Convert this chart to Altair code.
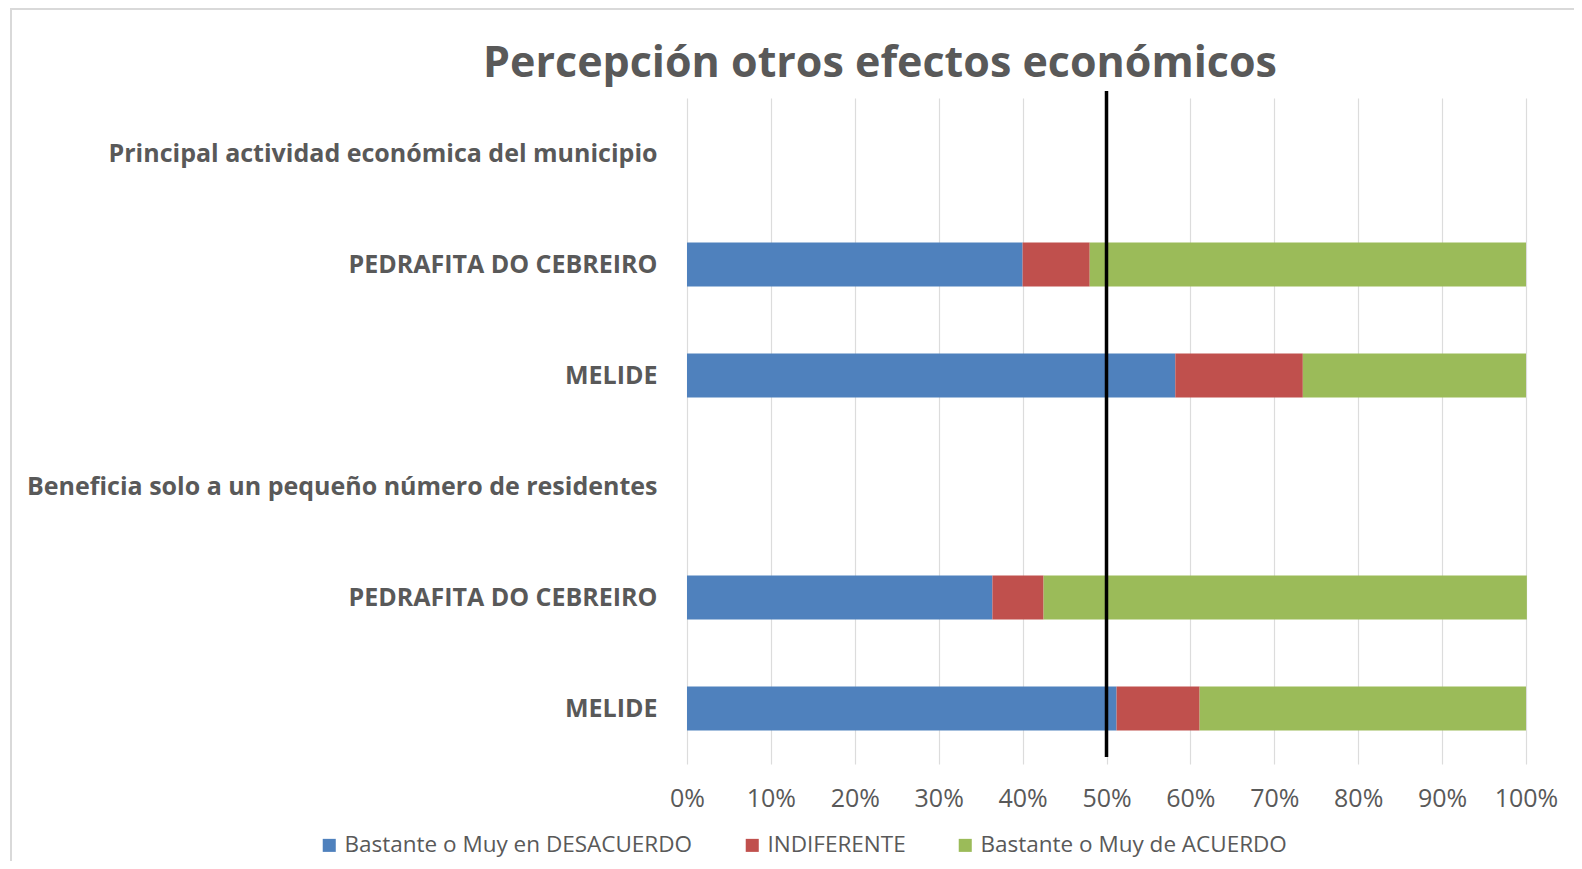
import altair as alt
import pandas as pd

# ---- data ----
row_keys = ["r1", "r2", "r3", "r4", "r5", "r6"]
row_labels = [
    "Principal actividad económica del municipio",
    "PEDRAFITA DO CEBREIRO",
    "MELIDE",
    "Beneficia solo a un pequeño número de residentes",
    "PEDRAFITA DO CEBREIRO",
    "MELIDE",
]
series = ["Bastante o Muy en DESACUERDO", "INDIFERENTE", "Bastante o Muy de ACUERDO"]
colors = ["#4f81bd", "#c0504d", "#9bbb59"]

bar_rows = ["r2", "r3", "r5", "r6"]
desacuerdo = [0.400, 0.582, 0.364, 0.512]
indiferente = [0.080, 0.152, 0.061, 0.099]
acuerdo = [0.520, 0.266, 0.576, 0.389]
x_ticks = [0, 0.1, 0.2, 0.3, 0.4, 0.5, 0.6, 0.7, 0.8, 0.9, 1.0]
title_text = ["Percepción otros efectos económicos"]

records = []
for i, r in enumerate(bar_rows):
    for j, (s, vals) in enumerate(zip(series, [desacuerdo, indiferente, acuerdo])):
        records.append({"row": r, "serie": s, "valor": vals[i], "orden": j})
df = pd.DataFrame(records)

label_map = "{" + ",".join(f"'{k}':'{v}'" for k, v in zip(row_keys, row_labels)) + "}"

W, H = 839, 666
GRAY = "#595959"

bars = alt.Chart(df).mark_bar(size=44).encode(
    y=alt.Y("row:N", scale=alt.Scale(domain=row_keys, paddingInner=0.6, paddingOuter=0.3),
            axis=alt.Axis(title=None, labelExpr=f"{label_map}[datum.value]", labelFont="Open Sans",
                          labelFontWeight="bold", labelFontSize=25, labelColor=GRAY,
                          labelPadding=30, ticks=False, domain=False, grid=False, labelLimit=800)),
    x=alt.X("valor:Q", stack="zero", scale=alt.Scale(domain=[0, 1], nice=False),
            axis=alt.Axis(title=None, values=x_ticks, format=".0%", labelFont="Open Sans",
                          labelFontSize=25, labelColor=GRAY, ticks=False, domain=False,
                          grid=True, gridColor="#dcdcdc", gridWidth=1.2,
                          labelPadding=34, labelBaseline="middle", labelOverlap=False,
                          labelFlush=False)),
    color=alt.Color("serie:N", scale=alt.Scale(domain=series, range=colors),
                    legend=alt.Legend(title=None, orient="none", direction="horizontal",
                                      legendX=-369, legendY=736, symbolType="square",
                                      symbolSize=170, symbolStrokeWidth=0, labelFont="Open Sans",
                                      labelFontSize=22.5, labelColor=GRAY, labelOffset=4,
                                      columnPadding=48, labelLimit=600)),
    order=alt.Order("orden:Q"),
)

rule = alt.Chart(pd.DataFrame({"v": [0.5]})).mark_rule(color="black", strokeWidth=3.5).encode(
    x="v:Q", y=alt.value(-7), y2=alt.value(659)
)

title = alt.Chart(pd.DataFrame({"t": title_text})).mark_text(
    font="Open Sans", fontSize=43, fontWeight="bold", color=GRAY, align="center",
    baseline="alphabetic"
).encode(text="t:N", x=alt.value(193), y=alt.value(-21))

border = alt.Chart(pd.DataFrame({"a": [0]})).mark_rect(
    filled=False, stroke="#d9d9d9", strokeWidth=2
).encode(x=alt.value(-676), x2=alt.value(950), y=alt.value(-89), y2=alt.value(900))

chart = alt.layer(border, bars, rule, title).properties(
    width=W, height=H,
    autosize=alt.AutoSizeParams(type="none"),
    padding={"left": 679, "top": 90, "right": 48, "bottom": 97},
).configure(background="white", view=alt.ViewConfig(stroke=None))

chart.save("out.html", embed_options={"renderer": "svg", "actions": False})
